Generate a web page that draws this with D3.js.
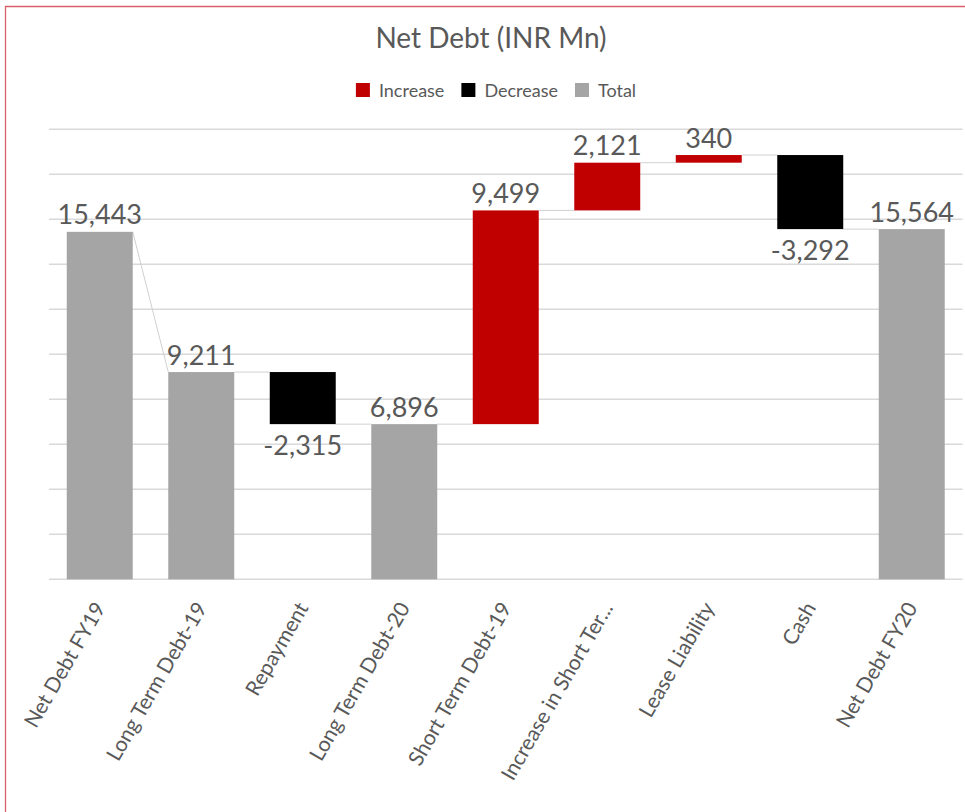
<!DOCTYPE html>
<html>
<head>
<meta charset="utf-8">
<script src="https://cdn.jsdelivr.net/npm/d3@7"></script>
<style>
  html, body { margin: 0; padding: 0; background: #ffffff; }
  svg { display: block; }
  text { font-family: Lato, "Open Sans", sans-serif; fill: #595959; }
</style>
</head>
<body>
<svg id="chart" width="965" height="812"></svg>
<script>
// ---- data ----
const categories = ["Net Debt FY19", "Long Term Debt-19", "Repayment", "Long Term Debt-20",
  "Short Term Debt-19", "Increase in Short Ter...", "Lease Liability", "Cash", "Net Debt FY20"];
const values = [15443, 9211, -2315, 6896, 9499, 2121, 340, -3292, 15564];
const kinds = ["total", "total", "decrease", "total", "increase", "increase", "increase", "decrease", "total"];
const legendLabels = ["Increase", "Decrease", "Total"];
const yTicks = [0, 2000, 4000, 6000, 8000, 10000, 12000, 14000, 16000, 18000, 20000];
const title = "Net Debt (INR Mn)";

const colors = { increase: "#c00000", decrease: "#000000", total: "#a5a5a5" };
const legendKinds = ["increase", "decrease", "total"];

// ---- derived waterfall table ----
let running = 0;
const rows = categories.map((c, i) => {
  const v = values[i], k = kinds[i];
  let start, end, connect;
  if (k === "total") { start = 0; end = v; connect = v; running = v; }
  else { start = running; end = running + v; connect = running; running = end; }
  return { c, v, k, lo: Math.min(start, end), hi: Math.max(start, end), end, connect };
});

const svg = d3.select("#chart");
const W = 965, H = 812;

// border
svg.append("path")
  .attr("d", `M5.5,${H + 2} L5.5,6.5 L${W + 2},6.5`)
  .attr("fill", "none").attr("stroke", "#d9606a").attr("stroke-width", 1.3);

const x = d3.scaleBand().domain(categories).range([49, 962.5])
  .paddingInner(0.35).paddingOuter(0.175);
const y = d3.scaleLinear().domain([0, 20000]).range([579.3, 129.3]);

// gridlines
svg.append("g").selectAll("line").data(yTicks).join("line")
  .attr("x1", 49).attr("x2", 962.5)
  .attr("y1", d => y(d)).attr("y2", d => y(d))
  .attr("stroke", "#d9d9d9").attr("stroke-width", 1.5);

// connectors
svg.append("g").selectAll("line").data(rows.slice(0, -1)).join("line")
  .attr("x1", (d) => x(d.c) + x.bandwidth())
  .attr("x2", (d, i) => x(rows[i + 1].c))
  .attr("y1", d => y(d.end))
  .attr("y2", (d, i) => y(rows[i + 1].connect))
  .attr("stroke", "#d0d0d0").attr("stroke-width", 1);

// bars
svg.append("g").selectAll("rect").data(rows).join("rect")
  .attr("x", d => x(d.c)).attr("width", x.bandwidth())
  .attr("y", d => y(d.hi)).attr("height", d => y(d.lo) - y(d.hi))
  .attr("fill", d => colors[d.k]);

// data labels
const fmt = d3.formatLocale({ decimal: ".", thousands: ",", grouping: [3], currency: ["", ""], minus: "-" }).format(",");
svg.append("g").selectAll("text").data(rows).join("text")
  .attr("x", d => x(d.c) + x.bandwidth() / 2)
  .attr("y", d => d.v < 0 ? y(d.lo) + 31 : y(d.hi) - 7.5)
  .attr("text-anchor", "middle")
  .style("font-size", "27px")
  .text(d => fmt(d.v));

// x axis labels
svg.append("g").selectAll("text").data(categories).join("text")
  .attr("transform", d => `translate(${x(d) + x.bandwidth() / 2},604) rotate(-60)`)
  .attr("text-anchor", "end").attr("dy", "0.35em")
  .style("font-size", "21px")
  .text(d => d);

// title
svg.append("text").attr("x", 491).attr("y", 48).attr("text-anchor", "middle")
  .style("font-size", "28px").text(title);

// legend
const lg = svg.append("g");
let lx = 0;
legendKinds.forEach((k, i) => {
  const g = lg.append("g").attr("transform", `translate(${lx},0)`);
  g.append("rect").attr("x", 0).attr("y", 83).attr("width", 14).attr("height", 14).attr("fill", colors[k]);
  const t = g.append("text").attr("x", 23).attr("y", 97).style("font-size", "18px").text(legendLabels[i]);
  lx += 23 + t.node().getComputedTextLength() + 17;
});
const lw = lx - 17;
lg.attr("transform", `translate(${496 - lw / 2},0)`);
</script>
</body>
</html>
